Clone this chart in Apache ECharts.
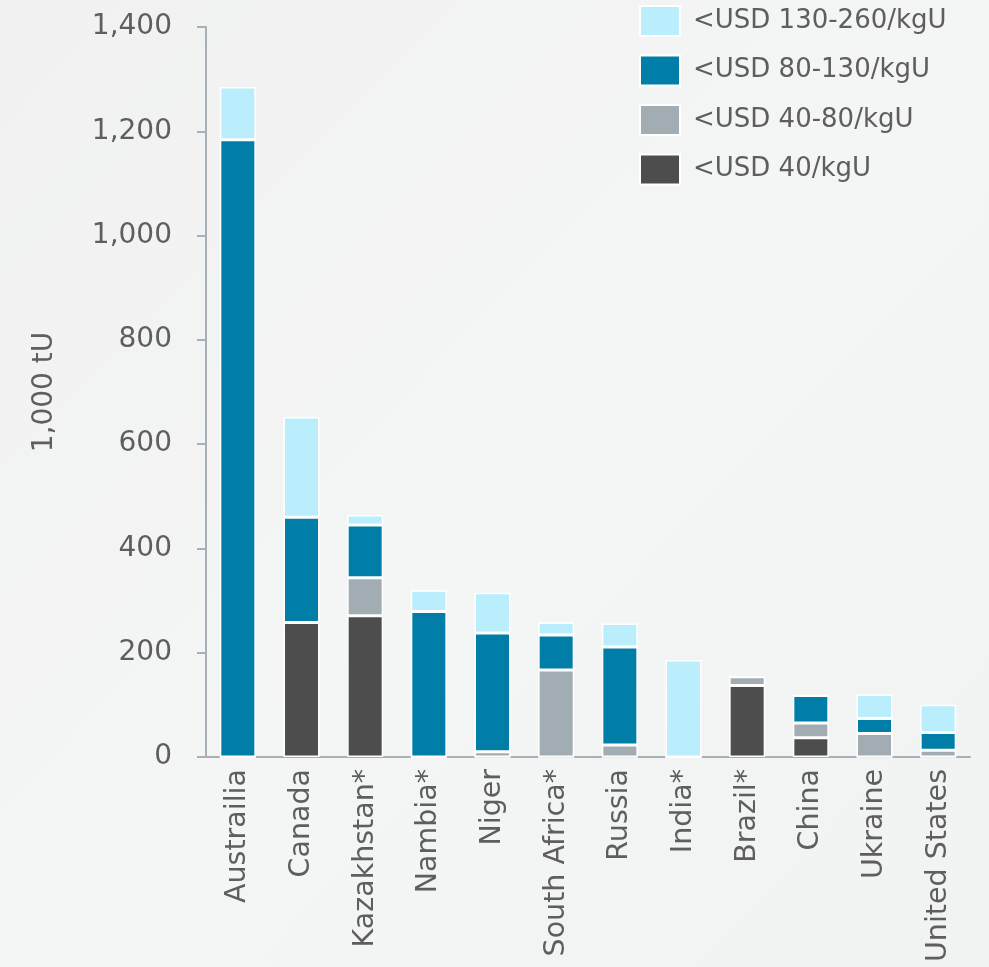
<!DOCTYPE html>
<html>
<head>
<meta charset="utf-8">
<script src="https://cdn.jsdelivr.net/npm/echarts@6/dist/echarts.min.js"></script>
<style>
  html, body { margin: 0; padding: 0; }
  #chart { width: 989px; height: 967px; }
</style>
</head>
<body>
<div id="chart"></div>
<script>
// categories and stacked values (1,000 tU)
const countries = ['Austrailia', 'Canada', 'Kazakhstan*', 'Nambia*', 'Niger', 'South Africa*',
  'Russia', 'India*', 'Brazil*', 'China', 'Ukraine', 'United States'];
const below40 = [0, 258, 271, 0, 0, 0, 0, 0, 137, 37, 0, 0];
const usd40to80 = [0, 0, 73, 0, 10, 167, 23, 0, 17, 28, 45, 13];
const usd80to130 = [1184, 202, 101, 279, 228, 67, 188, 0, 0, 53, 29, 34];
const usd130to260 = [101, 192, 19, 41, 77, 24, 45, 186, 0, 0, 46, 53];
const yTicks = [0, 200, 400, 600, 800, 1000, 1200, 1400];

const font = '"DejaVu Sans", sans-serif';
const textColor = '#5e5e5e';
const axisColor = '#a6b0b6';

let myChart = echarts.init(document.getElementById('chart'));

function seg(name, data, color) {
  return {
    name: name,
    type: 'bar',
    stack: 'total',
    barWidth: 36,
    data: data,
    itemStyle: {
      color: color,
      borderColor: '#ffffff',
      borderWidth: 1.5
    }
  };
}

let option = {
  backgroundColor: {
    type: 'linear',
    x: 0, y: 0, x2: 1, y2: 1,
    colorStops: [
      { offset: 0, color: '#f1f1f1' },
      { offset: 0.5, color: '#f4f5f5' },
      { offset: 1, color: '#f1f2f2' }
    ]
  },
  textStyle: { fontFamily: font },
  grid: { left: 206, right: 19, top: 27, bottom: 210 },
  legend: {
    orient: 'vertical',
    left: 639,
    top: 5,
    padding: 0,
    icon: 'rect',
    itemWidth: 40,
    itemHeight: 30,
    itemGap: 17.5,
    data: ['<USD 130-260/kgU', '<USD 80-130/kgU', '<USD 40-80/kgU', '<USD 40/kgU'],
    textStyle: { color: textColor, fontSize: 26, fontFamily: font, padding: [0, 0, 0, 8] },
    itemStyle: { borderColor: '#ffffff', borderWidth: 2 }
  },
  xAxis: {
    type: 'category',
    data: countries,
    axisLine: { lineStyle: { color: axisColor, width: 2 } },
    axisTick: { show: false },
    axisLabel: {
      rotate: 90,
      color: textColor,
      fontSize: 28.5,
      fontFamily: font,
      margin: 12,
      interval: 0
    }
  },
  yAxis: {
    type: 'value',
    min: 0,
    max: 1400,
    interval: 200,
    name: '1,000 tU',
    nameLocation: 'middle',
    nameGap: 147,
    nameTextStyle: { color: textColor, fontSize: 28, fontFamily: font },
    splitLine: { show: false },
    axisLine: { show: true, lineStyle: { color: axisColor, width: 2 } },
    axisTick: { show: true, length: 9, lineStyle: { color: axisColor, width: 2 } },
    axisLabel: {
      color: textColor,
      fontSize: 28,
      fontFamily: font,
      margin: 34,
      customValues: yTicks,
      formatter: v => v.toLocaleString('en-US')
    }
  },
  series: [
    seg('<USD 40/kgU', below40, '#4d4d4d'),
    seg('<USD 40-80/kgU', usd40to80, '#a1acb3'),
    seg('<USD 80-130/kgU', usd80to130, '#007ea7'),
    seg('<USD 130-260/kgU', usd130to260, '#bbeefd')
  ]
};

myChart.setOption(option);
</script>
</body>
</html>
